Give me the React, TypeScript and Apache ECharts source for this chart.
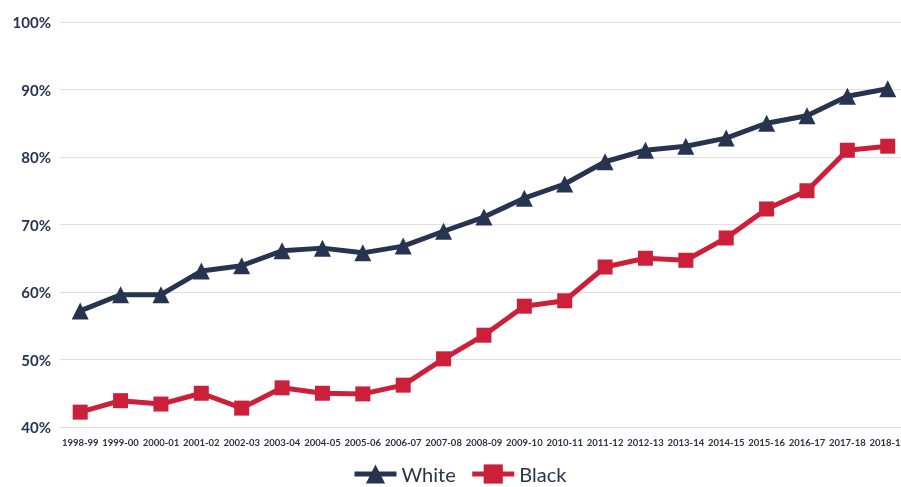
import React, { useEffect, useRef } from "react";
import * as echarts from "echarts";

const categories = ["1998-99","1999-00","2000-01","2001-02","2002-03","2003-04","2004-05","2005-06","2006-07","2007-08","2008-09","2009-10","2010-11","2011-12","2012-13","2013-14","2014-15","2015-16","2016-17","2017-18","2018-19"];
const whiteValues = [57.2,59.6,59.6,63.1,63.9,66.1,66.5,65.8,66.8,69.0,71.1,73.9,76.0,79.3,81.0,81.6,82.8,85.0,86.1,89.0,90.1];
const blackValues = [42.2,43.9,43.4,45.0,42.8,45.8,45.0,44.9,46.2,50.1,53.6,57.9,58.7,63.7,65.0,64.7,68.0,72.3,75.0,81.0,81.6];

const NAVY = "#27344f";
const RED = "#cc1f3a";

export default function App() {
  const ref = useRef<HTMLDivElement>(null);
  useEffect(() => {
    const chart = echarts.init(ref.current!, null, { renderer: "svg" });
    chart.setOption({
      animation: false,
      grid: { left: 60, right: 0, top: 22, bottom: 60 },
      legend: {
        top: 464,
        left: 352,
        padding: 0,
        itemWidth: 42,
        itemHeight: 24,
        itemGap: 14,
        lineStyle: { width: 5 },
        textStyle: { fontFamily: "Lato", fontSize: 20, color: NAVY },
        data: ["White", "Black"],
      },
      xAxis: {
        type: "category",
        data: categories,
        boundaryGap: true,
        axisLine: { lineStyle: { color: "#e0e0e0", width: 1 } },
        axisTick: { show: false },
        axisLabel: { interval: 0, fontFamily: "Lato", fontWeight: "bold", fontSize: 9.5, color: "#2b3145", margin: 10 },
      },
      yAxis: {
        type: "value",
        min: 40,
        max: 100,
        interval: 10,
        axisLine: { show: false },
        axisTick: { show: false },
        splitLine: { lineStyle: { color: "#e0e0e0", width: 1 } },
        axisLabel: { formatter: "{value}%", fontFamily: "Lato", fontWeight: "bold", fontSize: 15, color: NAVY, margin: 9 },
      },
      series: [
        {
          name: "White",
          type: "line",
          data: whiteValues,
          symbol: "triangle",
          symbolSize: 17,
          lineStyle: { color: NAVY, width: 5 },
          itemStyle: { color: NAVY },
        },
        {
          name: "Black",
          type: "line",
          data: blackValues,
          symbol: "rect",
          symbolSize: 15,
          lineStyle: { color: RED, width: 5 },
          itemStyle: { color: RED },
        },
      ],
    });
    return () => chart.dispose();
  }, []);
  return (
    <div style={{ position: "fixed", left: 0, top: 0, width: 901, height: 487, overflow: "hidden" }}>
      <div ref={ref} style={{ width: 909, height: 487 }} />
    </div>
  );
}
